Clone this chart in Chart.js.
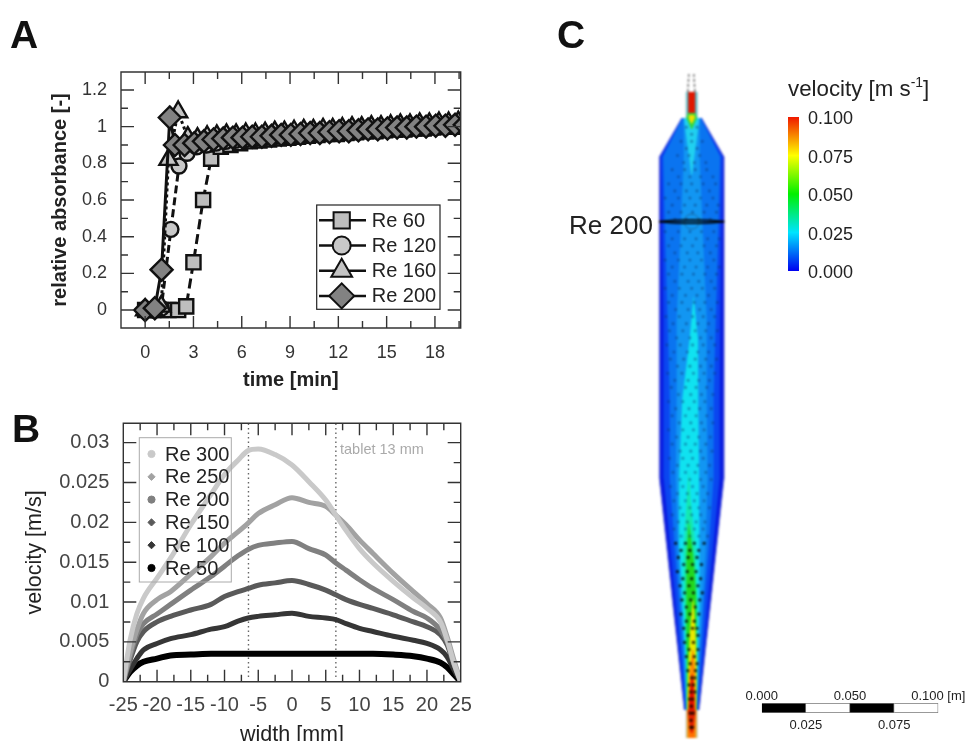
<!DOCTYPE html>
<html lang="en">
<head>
  <meta charset="UTF-8">
  <title>Tablet dissolution cell</title>
  <script src="https://cdn.jsdelivr.net/npm/chart.js"></script>
  <style>
    html, body { margin: 0; padding: 0; background: #fff; overflow: hidden; width: 968px; height: 741px; }
    canvas { position: absolute; filter: blur(0.45px); }
    #field { filter: blur(0.8px); }
    .note { position: absolute; font-family: "Liberation Sans", Arial, sans-serif; white-space: nowrap; line-height: 1; filter: blur(0.3px); }
    .letter { font-size: 39px; font-weight: bold; color: #111; }
    sup { font-size: 14px; vertical-align: 9px; line-height: 0; }
  </style>
</head>
<body>
  <div class="note letter" style="left:10px;top:15px">A</div>
  <div class="note letter" style="left:12px;top:409px">B</div>
  <div class="note letter" style="left:557px;top:15px">C</div>
  <div class="note" style="left:340px;top:442px;font-size:14.5px;color:#aaa">tablet 13 mm</div>
  <div class="note" style="left:569px;top:212px;font-size:26px;color:#222">Re 200</div>
  <div class="note" style="left:788px;top:78px;font-size:22.3px;color:#222">velocity [m s<sup>-1</sup>]</div>

  <canvas id="absorbance" width="480" height="340" style="left:0;top:60px"></canvas>
  <canvas id="profile" width="480" height="350" style="left:0;top:400px"></canvas>
  <canvas id="field" width="200" height="681" style="left:600px;top:60px"></canvas>
  <canvas id="colorbar" width="110" height="180" style="left:780px;top:105px"></canvas>
  <canvas id="scalebar" width="238" height="56" style="left:730px;top:680px"></canvas>

  <script>
    // Panel A: time [min] and relative absorbance [-]
    const re60Time = [0, 0.5, 1, 1.45, 2.05, 2.55, 3, 3.6, 4.1, 4.7, 5.3, 5.9, 6.5, 7.1, 7.7, 8.3, 8.9, 9.5, 10.1, 10.7, 11.3, 11.9, 12.5, 13.1, 13.7, 14.3, 14.9, 15.5, 16.1, 16.7, 17.3, 17.9, 18.5, 19.1, 19.7];
    const re60Abs = [0, 0, 0, 0, 0, 0.02, 0.26, 0.6, 0.825, 0.89, 0.9, 0.91, 0.92, 0.925, 0.93, 0.935, 0.94, 0.945, 0.95, 0.955, 0.96, 0.96, 0.965, 0.97, 0.975, 0.975, 0.98, 0.985, 0.985, 0.99, 0.99, 0.995, 1, 1, 1];
    const re120Time = [0, 0.5, 1, 1.6, 2.1, 2.6, 3.2, 3.8, 4.4, 5, 5.6, 6.2, 6.8, 7.4, 8, 8.6, 9.2, 9.8, 10.4, 11, 11.6, 12.2, 12.8, 13.4, 14, 14.6, 15.2, 15.8, 16.4, 17, 17.6, 18.2, 18.8, 19.4, 20];
    const re120Abs = [0, 0, 0.01, 0.44, 0.785, 0.855, 0.89, 0.9, 0.91, 0.92, 0.925, 0.93, 0.935, 0.94, 0.945, 0.95, 0.95, 0.955, 0.96, 0.96, 0.965, 0.97, 0.97, 0.975, 0.98, 0.98, 0.985, 0.985, 0.99, 0.995, 0.995, 1, 1, 1.005, 1.005];
    const re160Time = [0, 0.5, 1, 1.45, 2.05, 2.65, 3.25, 3.85, 4.45, 5.05, 5.65, 6.25, 6.85, 7.45, 8.05, 8.65, 9.25, 9.85, 10.45, 11.05, 11.65, 12.25, 12.85, 13.45, 14.05, 14.65, 15.25, 15.85, 16.45, 17.05, 17.65, 18.25, 18.85, 19.45];
    const re160Abs = [0, 0, 0.02, 0.82, 1.08, 0.94, 0.935, 0.945, 0.95, 0.955, 0.955, 0.96, 0.96, 0.965, 0.97, 0.97, 0.975, 0.98, 0.98, 0.985, 0.985, 0.99, 0.995, 0.995, 1, 1, 1.005, 1.01, 1.01, 1.015, 1.015, 1.02, 1.02, 1.025];
    const re200Time = [0, 0.6, 1.02, 1.53, 1.85, 2.45, 3.05, 3.65, 4.25, 4.85, 5.45, 6.05, 6.65, 7.25, 7.85, 8.45, 9.05, 9.65, 10.25, 10.85, 11.45, 12.05, 12.65, 13.25, 13.85, 14.45, 15.05, 15.65, 16.25, 16.85, 17.45, 18.05, 18.65, 19.25, 19.85];
    const re200Abs = [0, 0.01, 0.22, 1.05, 0.9, 0.9, 0.91, 0.92, 0.93, 0.935, 0.94, 0.94, 0.945, 0.945, 0.95, 0.955, 0.955, 0.96, 0.965, 0.965, 0.97, 0.975, 0.975, 0.98, 0.985, 0.985, 0.99, 0.995, 0.995, 1, 1, 1.005, 1.005, 1.01, 1.01];
    const timeTicks = [0, 3, 6, 9, 12, 15, 18];
    const timeMinorTicks = [1.5, 4.5, 7.5, 10.5, 13.5, 16.5, 19.5];
    const absTicks = [0, 0.2, 0.4, 0.6, 0.8, 1, 1.2];
    const absMinorTicks = [0.1, 0.3, 0.5, 0.7, 0.9, 1.1];

    // Panel B: width [mm] and velocity [m/s]
    const widthGrid = [-25, -24, -23, -22, -20, -18, -15, -12, -10, -8, -6.5, -5, -2.5, 0, 2.5, 5, 6.5, 8, 10, 12, 15, 18, 20, 22, 23, 24, 25];
    const re300Vel = [0, 0.0052, 0.0085, 0.0105, 0.013, 0.0155, 0.0197, 0.0235, 0.026, 0.0278, 0.029, 0.0292, 0.0285, 0.0272, 0.0251, 0.0228, 0.0209, 0.019, 0.0167, 0.0149, 0.0126, 0.0105, 0.0092, 0.0075, 0.0052, 0.0023, 0];
    const re250Vel = [0, 0.0036, 0.0065, 0.0086, 0.0103, 0.0113, 0.0135, 0.0157, 0.0174, 0.0188, 0.0199, 0.0211, 0.0222, 0.0231, 0.0225, 0.022, 0.0209, 0.0197, 0.0178, 0.0161, 0.0136, 0.0113, 0.0098, 0.008, 0.0056, 0.0027, 0];
    const re200Vel = [0, 0.0031, 0.0059, 0.0073, 0.0085, 0.0097, 0.0115, 0.0132, 0.0145, 0.0158, 0.0166, 0.0171, 0.0174, 0.0176, 0.0167, 0.0159, 0.0149, 0.014, 0.0128, 0.0117, 0.0103, 0.0088, 0.008, 0.0065, 0.005, 0.0023, 0];
    const re150Vel = [0, 0.0027, 0.005, 0.0063, 0.0075, 0.0082, 0.009, 0.0097, 0.0107, 0.0113, 0.0117, 0.0121, 0.0124, 0.0127, 0.0122, 0.0115, 0.0109, 0.0103, 0.0097, 0.0092, 0.0084, 0.0075, 0.0069, 0.0059, 0.0046, 0.0021, 0];
    const re100Vel = [0, 0.0015, 0.0029, 0.004, 0.0048, 0.0054, 0.0059, 0.0066, 0.0069, 0.0076, 0.008, 0.0082, 0.0084, 0.0086, 0.0082, 0.008, 0.0078, 0.0073, 0.0067, 0.0063, 0.0057, 0.0052, 0.0048, 0.004, 0.0031, 0.0015, 0];
    const re50Vel = [0, 0.0012, 0.002, 0.0025, 0.0029, 0.0033, 0.0034, 0.0035, 0.0035, 0.0035, 0.0035, 0.0035, 0.0035, 0.0035, 0.0035, 0.0035, 0.0035, 0.0035, 0.0035, 0.0035, 0.0034, 0.0032, 0.0029, 0.0024, 0.0018, 0.0009, 0];
    const tabletEdges = [-6.45, 6.5];
    const tabletSpan = [0.0006, 0.0324];
    const widthTicks = [-25, -20, -15, -10, -5, 0, 5, 10, 15, 20, 25];
    const widthMinorTicks = [-22.5, -17.5, -12.5, -7.5, -2.5, 2.5, 7.5, 12.5, 17.5, 22.5];
    const velTicks = [0, 0.005, 0.01, 0.015, 0.02, 0.025, 0.03];
    const velMinorTicks = [0.0025, 0.0075, 0.0125, 0.0175, 0.0225, 0.0275];

    // Panel C: nozzle contour bands, x across the axis and h up from the outlet, both in mm
    const wallH = [15.8, 49.7, 78, 106.2, 146.9, 191, 236.2, 281.4, 328.3, 350.3];
    const wallHalf = [4.3, 7.9, 11, 14, 18.4, 18.4, 18.4, 18.4, 18.4, 5.65];
    const deepHalf = [3.7, 6.8, 9.3, 11.9, 15.8, 15.8, 16.1, 16.7, 17.5, 5.4];
    const midHalf = [3.1, 5.4, 7.3, 9.6, 12.4, 12.4, 13.6, 15, 16.1, 5.1];
    const lightHalf = [2.8, 4.5, 6.2, 7.9, 9, 8.5, 8.5, 6.5, 4.5, 4.5];
    const mouthH = [318, 338, 350.3];
    const mouthHalf = [0.2, 2.8, 4.5];
    const cyanH = [15.8, 49.7, 78, 106.2, 146.9, 191, 225, 250];
    const cyanLeft = [-2.8, -3.7, -5.4, -6.8, -7.1, -5.4, -1.2, 1.1];
    const cyanRight = [2.8, 3.7, 4.4, 4.5, 4.2, 3.7, 3.6, 1.1];
    const tealH = [15.8, 49.7, 78, 106.2, 134.5, 151.4];
    const tealLeft = [-2.7, -3.1, -4.4, -4.6, -2.8, -1.7];
    const tealRight = [2.7, 3.1, 3.4, 2.4, -0.6, -1.7];
    const greenH = [15.8, 49.7, 78, 100.6, 123.2];
    const greenLeft = [-2.6, -2.7, -3.2, -2.8, -1.7];
    const greenRight = [2.6, 3, 2.6, 1.2, -1.7];
    const yellowH = [15.8, 38.4, 60, 78];
    const yellowLeft = [-2.5, -2, -1, 0.6];
    const yellowRight = [2.5, 2.8, 2.2, 1];
    const orangeH = [15.8, 38, 50];
    const orangeLeft = [-2.2, -1.2, 0.5];
    const orangeRight = [2.2, 2, 1];
    const redH = [15.8, 24, 36];
    const redLeft = [-1.8, -1.3, 0];
    const redRight = [1.8, 1.5, 0.6];
    const outletH = [0, 15.8];
    const outletHalf = [3, 3];
    const outletOrangeHalf = [1.8, 2.5];
    const outletRedH = [3, 15.8];
    const outletRedHalf = [0.8, 2.2];
    const inletH = [350.3, 365];
    const inletHalf = [3.1, 3.1];
    const inletRedHalf = [2, 2];
    const throatGreenH = [344, 350.3, 353];
    const throatGreenHalf = [0.3, 3, 2.2];
    const throatYellowH = [347, 350.3, 352];
    const throatYellowHalf = [0.2, 1.8, 1.6];
    const wireLeftX = [-2.2, -1.6];
    const wireRightX = [1.8, 1.2];
    const wireH = [365, 375];
    const lensX = [-18.4, -9, 0, 9, 18.4];
    const lensTopH = [291.7, 292.4, 292.6, 292.4, 291.7];
    const lensBottomH = [291.7, 291, 290.8, 291, 291.7];
    const tabletCentre = [0, 291.7];
    const arrowRowsUpper = [
      [345, [-3, 3]], [341, [0]],
      [337, [-6, 0, 6]], [333, [-3, 3]],
      [329, [-8, -1.5, 4.5]], [325, [-4.5, 1.5, 8]],
      [321, [-11, -4, 2, 8.5]], [317, [-7.5, -1, 5, 12]],
      [313, [-13, -6, 0, 6.5, 13.5]], [309, [-9.5, -3, 3, 10]],
      [305, [-15, -7.5, -1, 5, 12]], [301, [-11, -4, 2, 8.5, 15]],
      [297, [-13, -6, 0.5, 7, 14]], [293, [-9.5, -3, 4, 10.5]],
      [286, [-15, -7.5, -1, 5.5, 12.5]], [282, [-11, -4, 2.5, 9, 15.5]],
      [278, [-13, -6, 0.5, 7, 14]], [274, [-9.5, -2.5, 3.5, 10.5]],
      [270, [-15, -7.5, -1, 5.5, 12.5]], [266, [-11, -4, 2.5, 9, 15.5]],
      [262, [-13, -5.5, 1, 7.5, 14]], [258, [-9.5, -2, 4, 11]],
      [254, [-15, -7, 0, 6, 13]], [250, [-11, -3.5, 3, 9.5]],
      [246, [-13, -5.5, 1.5, 7.5, 14.5]], [242, [-9, -2, 4.5, 11]],
      [238, [-14.5, -7, 0.5, 6.5, 13]], [234, [-10.5, -3, 3.5, 9.5]],
      [230, [-12.5, -5, 2, 8, 14.5]], [226, [-8.5, -1, 5, 11]],
      [222, [-14, -6.5, 0.5, 6.5, 13]], [218, [-10, -2.5, 3.5, 9.5]],
      [214, [-12, -4.5, 2, 8, 14]], [210, [-8, -1, 5, 11]],
      [206, [-13.5, -5.5, 1, 7, 13]], [202, [-9.5, -2, 4, 10]],
      [198, [-11.5, -3.5, 2.5, 8.5]], [194, [-7.5, -0.5, 5.5, 12]],
      [190, [-13, -5, 1.5, 7.5]], [186, [-9, -1.5, 4.5, 11]],
      [182, [-11, -3.5, 2.5, 8.5]], [178, [-7, -0.5, 5.5, 12]],
      [174, [-13, -5, 1, 7]], [170, [-8.5, -2, 4, 10.5]],
      [166, [-11, -3.5, 2, 8]], [162, [-6.5, -0.5, 5, 11.5]],
      [158, [-12.5, -5, 0.5, 6.5]], [154, [-8, -2, 3.5, 10]],
      [150, [-10.5, -3.5, 2, 8]], [146, [-6.5, -1, 5, 11]],
      [142, [-12, -5, 0.5, 6.5]], [138, [-8, -2.5, 3, 9]],
      [134, [-10, -3.5, 1.5, 7]], [130, [-6.5, -1, 4, 10]],
      [126, [-11, -5, 0, 5]], [122, [-7.5, -2.5, 2.5, 7.5]],
      [118, [-10, -3.5, 1.5, 6.5]], [114, [-6, -1, 4, 9]]
    ];
    const arrowRowsLower = [
      [110, [-9, -3.5, 1.5, 7]], [106, [-6, -1, 4]],
      [102, [-7.5, -2, 3]], [98, [-4.5, 0.5, 5.5]],
      [94, [-8, -2.5, 2.5]], [90, [-5, 0, 5]],
      [86, [-6.5, -1.5, 3.5]], [82, [-4, 1, 6]],
      [78, [-5.5, -0.5, 4.5]], [74, [-3, 2]],
      [70, [-6, -1, 4]], [66, [-3, 1.5]],
      [62, [-4.5, 0.5, 3]], [58, [-2, 3.5]],
      [54, [-4, 1]], [50, [-1.5, 3.5]],
      [46, [-3, 1.5]], [42, [-0.8, 3]],
      [38, [-2.2, 2.2]], [34, [0, 1.8]],
      [30, [-1.5, 1]], [26, [-0.5, 1.8]],
      [22, [-1.2, 0.6]], [18, [-0.2]],
      [14, [-0.8, 0.8]], [10, [-0.4]], [6, [-0.6, 0.5]]
    ];
    const velocityTicks = [0, 0.025, 0.05, 0.075, 0.1];
    const scaleSegments = [0.025, 0.025, 0.025, 0.025];
    const scaleTopTicks = [0, 0.05, 0.1];
    const scaleBottomTicks = [0.025, 0.075];

    const sansFont = '"Liberation Sans", Arial, sans-serif';
    Chart.defaults.font.family = sansFont;
    Chart.defaults.animation = false;
    Chart.defaults.responsive = false;
    Chart.defaults.devicePixelRatio = 1;
    Chart.defaults.layout.autoPadding = false;
    Chart.defaults.plugins.legend.display = false;
    Chart.defaults.plugins.tooltip.enabled = false;

    const pairs = (xs, ys) => xs.map((x, i) => ({ x: x, y: ys[i] }));
    const noGrid = { display: false, drawTicks: false };
    const noBorder = { display: false };

    // frame and inward major/minor ticks on all four sides
    const frameTicks = {
      id: 'frameTicks',
      afterDatasetsDraw(chart, args, opts) {
        const ctx = chart.ctx, a = chart.chartArea;
        const xs = chart.scales.x, ys = chart.scales.y;
        ctx.save();
        ctx.strokeStyle = '#333';
        ctx.lineWidth = 1.4;
        ctx.beginPath();
        const mark = (list, len) => {
          list.forEach(v => {
            const px = xs.getPixelForValue(v);
            ctx.moveTo(px, a.bottom); ctx.lineTo(px, a.bottom - len);
            ctx.moveTo(px, a.top); ctx.lineTo(px, a.top + len);
          });
        };
        const markY = (list, len) => {
          list.forEach(v => {
            const py = ys.getPixelForValue(v);
            ctx.moveTo(a.left, py); ctx.lineTo(a.left + len, py);
            ctx.moveTo(a.right, py); ctx.lineTo(a.right - len, py);
          });
        };
        mark(opts.xMajor, 12); mark(opts.xMinor, 7);
        markY(opts.yMajor, 13); markY(opts.yMinor, 7);
        ctx.rect(a.left, a.top, a.right - a.left, a.bottom - a.top);
        ctx.stroke();
        ctx.restore();
      }
    };

    // legend box drawn inside the plot, rows follow the dataset labels
    const boxLegend = {
      id: 'boxLegend',
      afterDraw(chart, args, opts) {
        const ctx = chart.ctx;
        ctx.save();
        ctx.strokeStyle = opts.edge;
        ctx.lineWidth = opts.edgeWidth;
        ctx.strokeRect(opts.x, opts.y, opts.w, opts.h);
        ctx.font = '20px ' + sansFont;
        ctx.textBaseline = 'middle';
        const rows = chart.data.datasets.filter(d => d.label);
        rows.forEach((d, i) => {
          const cy = opts.firstRow + i * opts.rowStep;
          if (opts.lineFrom !== undefined) {
            ctx.strokeStyle = '#111';
            ctx.lineWidth = 2.5;
            ctx.beginPath();
            ctx.moveTo(opts.lineFrom, cy);
            ctx.lineTo(opts.lineTo, cy);
            ctx.stroke();
          }
          ctx.fillStyle = opts.markerFill ? d.pointBackgroundColor : d.borderColor;
          ctx.strokeStyle = opts.markerFill ? '#111' : d.borderColor;
          ctx.lineWidth = opts.markerFill ? 2 : 0;
          const radius = (d.legendRadius || opts.markerRadius);
          Chart.helpers.drawPoint(ctx, { pointStyle: d.pointStyle, radius: radius, borderWidth: ctx.lineWidth, rotation: 0 }, opts.markerX, cy);
          ctx.fillStyle = opts.textColor;
          ctx.fillText(d.label, opts.textX, cy + 1);
        });
        ctx.restore();
      }
    };

    function plotScales(cfg) {
      return {
        x: {
          type: 'linear', min: cfg.xMin, max: cfg.xMax,
          grid: noGrid, border: noBorder,
          afterBuildTicks: s => { s.ticks = cfg.xTicks.map(v => ({ value: v })); },
          afterFit: s => { s.height = cfg.bottomH; s.paddingLeft = 0; s.paddingRight = 0; },
          ticks: { autoSkip: false, maxRotation: 0, padding: cfg.xPad, color: cfg.tickColor, font: { size: cfg.tickSize }, callback: v => String(v) },
          title: { display: true, text: cfg.xTitle, color: cfg.titleColor, padding: { top: cfg.xTitlePad, bottom: 0 }, font: { size: cfg.titleSize, weight: cfg.titleWeight } }
        },
        y: {
          type: 'linear', min: cfg.yMin, max: cfg.yMax,
          grid: noGrid, border: noBorder,
          afterBuildTicks: s => { s.ticks = cfg.yTicks.map(v => ({ value: v })); },
          afterFit: s => { s.width = cfg.leftW; s.paddingTop = 0; s.paddingBottom = 0; },
          ticks: { padding: cfg.yPad, color: cfg.tickColor, font: { size: cfg.tickSize }, callback: v => String(v) },
          title: { display: true, text: cfg.yTitle, color: cfg.titleColor, padding: { top: cfg.yTitlePad, bottom: 0 }, font: { size: cfg.titleSize, weight: cfg.titleWeight } }
        }
      };
    }

    function absSeries(label, time, abs, style, radius, fill, dash, order) {
      return {
        label: label, data: pairs(time, abs), order: order, clip: 0,
        borderColor: '#111', borderWidth: 3, borderDash: dash,
        pointStyle: style, pointRadius: radius, pointBackgroundColor: fill,
        pointBorderColor: '#111', pointBorderWidth: 2.4, legendRadius: radius + 1.5
      };
    }

    new Chart(document.getElementById('absorbance'), {
      type: 'line',
      data: {
        datasets: [
          absSeries('Re 60', re60Time, re60Abs, 'rect', 10, '#bebebe', [10, 5], 3),
          absSeries('Re 120', re120Time, re120Abs, 'circle', 7.5, '#c8c8c8', [8, 4], 2),
          absSeries('Re 160', re160Time, re160Abs, 'triangle', 10.5, '#c4c4c4', [3, 3], 1),
          absSeries('Re 200', re200Time, re200Abs, 'rectRot', 11, '#828282', [], 0)
        ]
      },
      options: {
        layout: { padding: { top: 12, right: 19.3, bottom: 8 } },
        scales: plotScales({
          xMin: -1.5, xMax: 19.6, xTicks: timeTicks, yMin: -0.098, yMax: 1.298, yTicks: absTicks,
          bottomH: 64, leftW: 121, xPad: 14, yPad: 14, tickColor: '#333', tickSize: 18,
          xTitle: 'time [min]', yTitle: 'relative absorbance [-]', titleColor: '#222', titleSize: 20, titleWeight: 'bold',
          xTitlePad: 9, yTitlePad: 48
        }),
        plugins: {
          frameTicks: { xMajor: timeTicks, xMinor: timeMinorTicks, yMajor: absTicks, yMinor: absMinorTicks },
          boxLegend: {
            x: 316.7, y: 145, w: 123.3, h: 104.3, edge: '#222', edgeWidth: 1.2, firstRow: 160.3, rowStep: 25.2,
            lineFrom: 319, lineTo: 366, markerX: 341.7, markerRadius: 11, markerFill: true, textX: 371.7, textColor: '#222'
          }
        }
      },
      plugins: [frameTicks, boxLegend]
    });

    function velSeries(label, vel, colour, style, width) {
      return { label: label, data: pairs(widthGrid, vel), borderColor: colour, borderWidth: width, pointRadius: 0, pointStyle: style, cubicInterpolationMode: 'monotone', clip: 0, borderJoinStyle: 'round' };
    }
    const tabletLine = x => ({
      data: pairs([x, x], tabletSpan), borderColor: '#666', borderWidth: 1.4, borderDash: [1.5, 3], pointRadius: 0
    });

    new Chart(document.getElementById('profile'), {
      type: 'line',
      data: {
        datasets: [
          velSeries('Re 300', re300Vel, '#c9c9c9', 'circle', 5),
          velSeries('Re 250', re250Vel, '#a2a2a2', 'rectRot', 5),
          velSeries('Re 200', re200Vel, '#808080', 'circle', 5),
          velSeries('Re 150', re150Vel, '#5a5a5a', 'rectRot', 5),
          velSeries('Re 100', re100Vel, '#363636', 'rectRot', 5),
          velSeries('Re 50', re50Vel, '#000', 'circle', 6),
          tabletLine(tabletEdges[0]),
          tabletLine(tabletEdges[1])
        ]
      },
      options: {
        layout: { padding: { top: 23.3, right: 19.3, bottom: 2 } },
        scales: plotScales({
          xMin: -25, xMax: 25, xTicks: widthTicks, yMin: 0, yMax: 0.03243, yTicks: velTicks,
          bottomH: 66.3, leftW: 123.3, xPad: 12, yPad: 14, tickColor: '#444', tickSize: 20,
          xTitle: 'width [mm]', yTitle: 'velocity [m/s]', titleColor: '#222', titleSize: 21.5, titleWeight: 'normal',
          xTitlePad: 5.7, yTitlePad: 22
        }),
        plugins: {
          frameTicks: { xMajor: widthTicks, xMinor: widthMinorTicks, yMajor: velTicks, yMinor: velMinorTicks },
          boxLegend: {
            x: 139.3, y: 37.7, w: 92, h: 144.3, edge: '#aaa', edgeWidth: 1, firstRow: 54, rowStep: 22.8,
            markerX: 151.5, markerRadius: 3.6, markerFill: false, textX: 165, textColor: '#222'
          }
        }
      },
      plugins: [frameTicks, boxLegend]
    });

    // each contour band is the fill between its left and right edge lines
    function band(colour, hs, left, right, edge) {
      return [
        { data: pairs(left, hs), fill: '+1', backgroundColor: colour, borderColor: edge || colour, borderWidth: edge ? 1 : 0, pointRadius: 0 },
        { data: pairs(right, hs), fill: false, borderColor: edge || colour, borderWidth: edge ? 1 : 0, pointRadius: 0 }
      ];
    }
    const mirror = list => list.map(v => -v);
    const rowsToPoints = rows => rows.flatMap(r => r[1].map(x => ({ x: x, y: r[0] })));

    const fieldSets = [
      ...band('#0a1ce0', wallH, mirror(wallHalf), wallHalf, '#9c9ce0'),
      ...band('#0a46f0', wallH, mirror(deepHalf), deepHalf),
      ...band('#0a74f0', wallH, mirror(midHalf), midHalf),
      ...band('#1296f2', wallH, mirror(lightHalf), lightHalf),
      ...band('#20d0f0', mouthH, mirror(mouthHalf), mouthHalf),
      ...band('#10e2f0', cyanH, cyanLeft, cyanRight),
      ...band('#14e8b0', tealH, tealLeft, tealRight),
      ...band('#22d81e', greenH, greenLeft, greenRight),
      ...band('#e8e800', yellowH, yellowLeft, yellowRight),
      ...band('#ff8a00', orangeH, orangeLeft, orangeRight),
      ...band('#e01000', redH, redLeft, redRight),
      ...band('#f0b020', outletH, mirror(outletHalf), outletHalf, '#b0b0a0'),
      ...band('#ff7000', outletH, mirror(outletOrangeHalf), outletOrangeHalf),
      ...band('#e02000', outletRedH, mirror(outletRedHalf), outletRedHalf),
      ...band('#38c4d8', inletH, mirror(inletHalf), inletHalf, '#a0c0c0'),
      ...band('#e01800', inletH, mirror(inletRedHalf), inletRedHalf),
      ...band('#30d840', throatGreenH, mirror(throatGreenHalf), throatGreenHalf),
      ...band('#f0e000', throatYellowH, mirror(throatYellowHalf), throatYellowHalf),
      { data: pairs(wireLeftX, wireH), borderColor: '#666', borderWidth: 1.4, borderDash: [3, 2], pointRadius: 0 },
      { data: pairs(wireRightX, wireH), borderColor: '#666', borderWidth: 1.4, borderDash: [3, 2], pointRadius: 0 },
      { data: rowsToPoints(arrowRowsUpper), showLine: false, pointRadius: 1.4, pointBackgroundColor: 'rgba(10,50,110,0.5)', pointBorderWidth: 0 },
      { data: rowsToPoints(arrowRowsLower), showLine: false, pointRadius: 1.6, pointBackgroundColor: 'rgba(0,0,0,0.85)', pointBorderWidth: 0 },
      { data: [{ x: tabletCentre[0], y: tabletCentre[1] }], showLine: false, pointRadius: 7.5, pointBackgroundColor: 'transparent', pointBorderColor: 'rgba(30,90,130,0.7)', pointBorderWidth: 1 },
      { data: pairs(lensX, lensTopH), borderColor: '#000', borderWidth: 1.8, pointRadius: 0, tension: 0.4 },
      { data: pairs(lensX, lensBottomH), borderColor: '#000', borderWidth: 1.8, pointRadius: 0, tension: 0.4 }
    ];
    fieldSets.forEach((d, i) => { d.order = -i; });

    new Chart(document.getElementById('field'), {
      type: 'line',
      data: { datasets: fieldSets },
      options: {
        indexAxis: 'y',
        scales: {
          x: { type: 'linear', display: false, min: -51.8, max: 61.2 },
          y: { type: 'linear', display: false, min: -1.7, max: 383 }
        }
      }
    });

    // colour bar: one bar from 0 to the top of the velocity range
    new Chart(document.getElementById('colorbar'), {
      type: 'bar',
      data: {
        labels: ['velocity'],
        datasets: [{
          data: [velocityTicks[velocityTicks.length - 1]],
          barThickness: 11,
          backgroundColor: c => {
            const a = c.chart.chartArea;
            if (!a) return '#00f';
            const g = c.chart.ctx.createLinearGradient(0, a.bottom, 0, a.top);
            g.addColorStop(0, '#0000f0');
            g.addColorStop(0.25, '#00e4ff');
            g.addColorStop(0.5, '#00f000');
            g.addColorStop(0.75, '#ffff00');
            g.addColorStop(1, '#f01800');
            return g;
          }
        }]
      },
      options: {
        layout: { padding: { left: 8, top: 12, bottom: 14 } },
        scales: {
          x: { display: false },
          y: {
            position: 'right', min: 0, max: 0.1, grid: noGrid, border: noBorder,
            afterBuildTicks: s => { s.ticks = velocityTicks.map(v => ({ value: v })); },
            afterFit: s => { s.width = 91; s.paddingTop = 0; s.paddingBottom = 0; },
            ticks: { padding: 9, labelOffset: 2.5, color: '#222', font: { size: 18 }, callback: v => Number(v).toFixed(3) }
          }
        }
      }
    });

    // scale bar: stacked 0.025 m segments, metres on both edges
    const segmentColours = ['#000', '#fff', '#000', '#fff'];
    new Chart(document.getElementById('scalebar'), {
      type: 'bar',
      data: {
        labels: ['length'],
        datasets: scaleSegments.map((v, i) => ({
          data: [v], backgroundColor: segmentColours[i], borderColor: '#777', borderWidth: 1, barThickness: 10
        }))
      },
      options: {
        indexAxis: 'y',
        layout: { padding: { left: 31.7, right: 29.7 } },
        scales: {
          x: {
            position: 'top', stacked: true, min: 0, max: 0.1, grid: noGrid, border: noBorder,
            afterBuildTicks: s => { s.ticks = scaleTopTicks.map(v => ({ value: v })); },
            afterFit: s => { s.height = 23; s.paddingLeft = 0; s.paddingRight = 0; },
            ticks: { autoSkip: false, maxRotation: 0, padding: -1, color: '#222', font: { size: 13 }, callback: v => Number(v).toFixed(3) + (v === 0.1 ? ' [m]' : '') }
          },
          xb: {
            axis: 'x', type: 'linear', position: 'bottom', min: 0, max: 0.1, grid: noGrid, border: noBorder,
            afterBuildTicks: s => { s.ticks = scaleBottomTicks.map(v => ({ value: v })); },
            afterFit: s => { s.height = 23; s.paddingLeft = 0; s.paddingRight = 0; },
            ticks: { autoSkip: false, maxRotation: 0, padding: 5, color: '#222', font: { size: 13 }, callback: v => Number(v).toFixed(3) }
          },
          y: { display: false, stacked: true }
        }
      }
    });
  </script>
</body>
</html>
